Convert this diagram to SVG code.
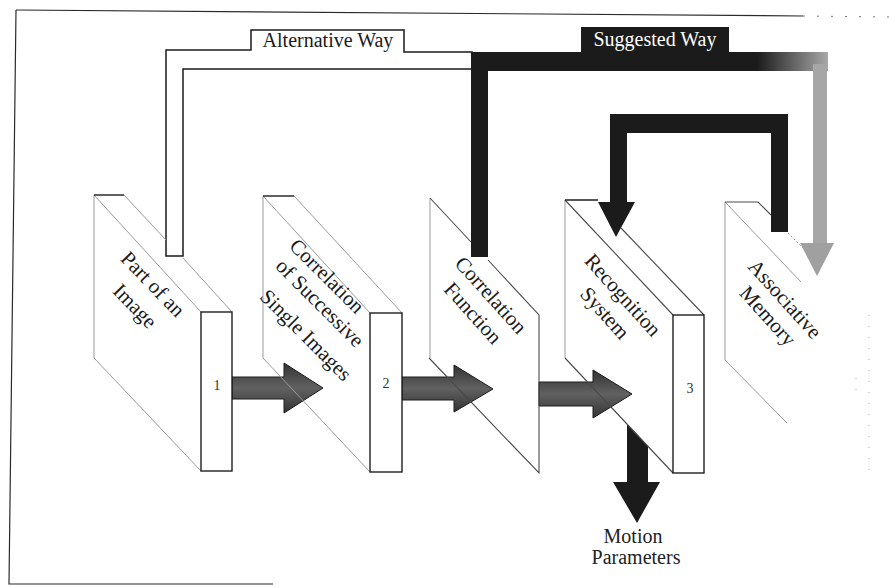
<svg xmlns="http://www.w3.org/2000/svg" width="889" height="587" viewBox="0 0 889 587" font-family="'Liberation Serif', 'Times New Roman', 'DejaVu Serif', serif">
<style>
.frame{fill:none;stroke:#2a2a2a;stroke-width:1.2}
.fl{fill:none;stroke:#9a9a9a;stroke-width:1}
.fd{fill:none;stroke:#4a4a4a;stroke-width:1.1}
.ed{fill:none;stroke:#1e1e1e;stroke-width:1.4}
.bar{fill:#fff;stroke:#1e1e1e;stroke-width:1.4}
.ptxt{font-family:'Liberation Serif','Times New Roman','DejaVu Serif',serif;font-size:21px;fill:#1a1a1a;text-anchor:middle}
.num{font-family:'Liberation Serif','Times New Roman','DejaVu Serif',serif;font-size:14px;fill:#333;text-anchor:middle}
.lbl{font-family:'Liberation Serif','Times New Roman','DejaVu Serif',serif;font-size:20px;text-anchor:middle}
.flow{fill:url(#flowg);stroke:#1c1c1c;stroke-width:1}
.dark{fill:#1b1b1b}
</style>
<defs>
<linearGradient id="flowg" x1="0" y1="0" x2="0" y2="1">
<stop offset="0" stop-color="#333"/>
<stop offset="0.5" stop-color="#616161"/>
<stop offset="1" stop-color="#333"/>
</linearGradient>
<linearGradient id="sugg" gradientUnits="userSpaceOnUse" x1="472" y1="0" x2="828" y2="0">
<stop offset="0" stop-color="#1b1b1b"/>
<stop offset="0.8" stop-color="#1b1b1b"/>
<stop offset="1" stop-color="#a8a8a8"/>
</linearGradient>
<linearGradient id="fade" x1="0" y1="0" x2="1" y2="0">
<stop offset="0" stop-color="#1a1a1a"/>
<stop offset="0.45" stop-color="#333"/>
<stop offset="1" stop-color="#d0d0d0"/>
</linearGradient>
</defs>

<g id="frame">
<path class="frame" d="M16,10 L803,16"/>
<path d="M803,16 L889,17" fill="none" stroke="#777" stroke-width="1" stroke-dasharray="2 12"/>
<path class="frame" d="M16,10 L9,584 L273,584"/>
<path d="M869,315 V470 M856,378 V392" fill="none" stroke="#aaa" stroke-width="1" stroke-dasharray="1 10"/>
</g>

<g id="connectors">
<path d="M166,256 V50 H251 V30 H404 V52 H472 V69 H183 V256 Z" fill="#fff" stroke="#1a1a1a" stroke-width="1.5"/>
<text class="lbl" x="328" y="47" fill="#1a1a1a">Alternative Way</text>
<rect x="472" y="52" width="356" height="19" fill="url(#sugg)"/>
<rect class="dark" x="471" y="52" width="17" height="205"/>
<rect class="dark" x="581" y="27" width="148" height="26"/>
<text class="lbl" x="655" y="46" fill="#fff">Suggested Way</text>
<rect x="813" y="64" width="14" height="180" fill="#a6a6a6"/>
<polygon points="800,243 834,243 817,276" fill="#a0a0a0"/>
<path class="dark" d="M771,232 V133 H627 V202 H635 L616,237 L598,202 H610 V114 H788 V232 Z"/>
<polygon class="flow" points="232,377 284,377 284,363 323,388 284,413 284,399 232,399"/>
<polygon class="flow" points="402,377 454,377 454,365 493,389 454,412 454,400 402,400"/>
<polygon class="flow" points="539,382 593,382 593,370 632,394 593,418 593,406 539,406"/>
<polygon class="dark" points="627,424 648,446 648,482 660,482 637,523 613,482 627,482"/>
<text class="lbl" x="633" y="543" font-size="18" fill="#222">Motion</text>
<text class="lbl" x="636" y="564" font-size="17.5" fill="#222">Parameters</text>
</g>

<g id="panel1">
<path class="fl" d="M94,195 L201,312 M94,195 V358 L201,471"/>
<path class="fl" d="M124,195 L166,240 M183,258 L232,312"/>
<path class="ed" d="M94,195 H124"/>
<rect class="bar" x="201" y="312" width="31" height="159"/>
<text class="num" x="217" y="390">1</text>
<text class="ptxt" transform="translate(153,284) rotate(46)" y="7">Part of an</text>
<text class="ptxt" transform="translate(135,306) rotate(46)" y="7">Image</text>
</g>

<g id="panel2">
<path class="fl" d="M263,196 L370,313 M263,196 V358 L370,472"/>
<path class="fl" d="M294,196 L402,313"/>
<path class="ed" d="M263,196 H294"/>
<rect class="bar" x="370" y="313" width="32" height="159"/>
<text class="num" x="386" y="388">2</text>
<text class="ptxt" transform="translate(327,276) rotate(45)" y="7">Correlation</text>
<text class="ptxt" transform="translate(320,303) rotate(45)" y="7">of Successive</text>
<text class="ptxt" transform="translate(306,335) rotate(45)" y="7">Single Images</text>
</g>

<g id="panel3">
<path class="fl" d="M430,198 V358"/>
<path class="fd" d="M430,198 L471,242 M488,260 L539,315 V473 L429,358"/>
<text class="ptxt" transform="translate(491,295) rotate(48)" y="7">Correlation</text>
<text class="ptxt" transform="translate(473,313) rotate(48)" y="7">Function</text>
</g>

<g id="panel4">
<path class="fl" d="M565,200 V358"/>
<path class="fd" d="M565,200 L673,315 M565,358 L673,473"/>
<path class="fd" d="M621,228 L704,315"/>
<path class="ed" d="M565,200 H598"/>
<rect class="bar" x="673" y="315" width="31" height="158"/>
<text class="num" x="690" y="393">3</text>
<text class="ptxt" transform="translate(623,295) rotate(48)" y="7">Recognition</text>
<text class="ptxt" transform="translate(605,313) rotate(48)" y="7">System</text>
</g>

<g id="panel5">
<path class="fl" d="M725,202 V360 L787,423 M725,202 L801,282"/>
<path class="fd" d="M725,202 H758 L771,215"/>
<path class="fl" d="M788,233 L803,248" stroke-dasharray="2 2"/>
<text class="ptxt" transform="translate(785,299) rotate(48)" y="7" fill="url(#fade)">Associative</text>
<text class="ptxt" transform="translate(768,316) rotate(48)" y="7" fill="url(#fade)">Memory</text>
</g>
</svg>
